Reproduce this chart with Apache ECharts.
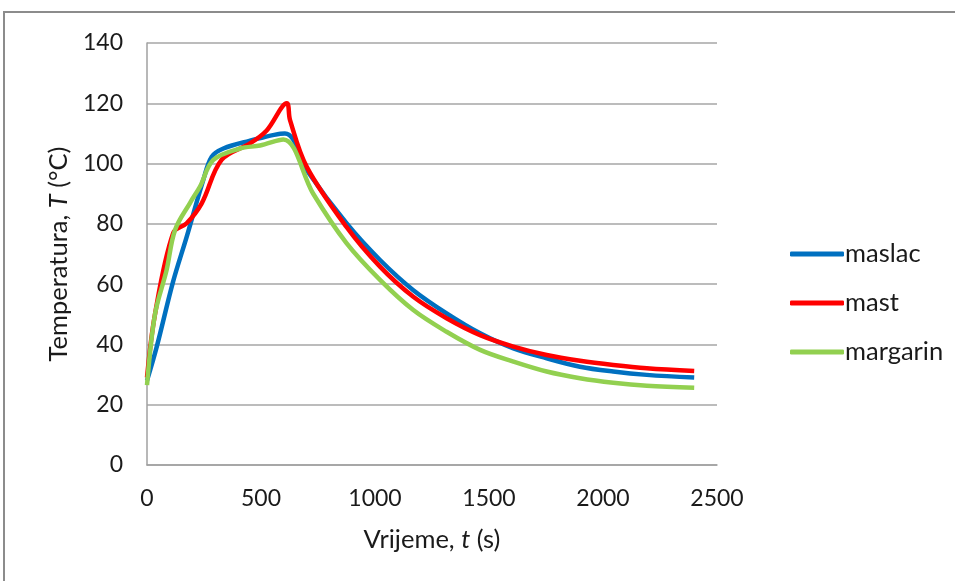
<!DOCTYPE html>
<html><head><meta charset="utf-8">
<script src="https://cdn.jsdelivr.net/npm/echarts@6/dist/echarts.min.js"></script>
<style>html,body{margin:0;padding:0;background:#fff}#c{width:955px;height:581px}</style>
</head><body><div id="c"></div>
<script>
const seriesNames = ['maslac', 'mast', 'margarin'];
const maslacT = [0, 42, 115, 174, 247, 284, 335, 437, 605, 700, 875, 1022, 1168, 1314, 1461, 1607, 1753, 1899, 2045, 2192, 2400];
const maslacV = [28, 39, 61, 75.7, 94.6, 102.3, 105, 107.3, 110, 97.9, 80.2, 68, 58, 50.3, 43.7, 38.7, 35.4, 32.6, 31, 29.9, 29];
const mastT = [0, 35, 115, 174, 240, 327, 452, 525, 613, 627, 700, 875, 1022, 1168, 1314, 1461, 1607, 1753, 1899, 2045, 2192, 2400];
const mastV = [29, 50, 77, 80.2, 86.8, 101.2, 106.7, 111, 120, 114.5, 99, 79, 65.8, 55.8, 48.7, 43.1, 39.3, 36.5, 34.6, 33.2, 32.1, 31.2];
const margarinT = [0, 35, 86, 123, 189, 232, 291, 408, 496, 598, 729, 875, 1022, 1168, 1314, 1461, 1607, 1753, 1899, 2045, 2192, 2400];
const margarinV = [26.5, 50, 64.7, 78, 87, 92.3, 101.2, 105, 106, 108, 90, 73.6, 61.4, 51.4, 44.2, 38.2, 34.3, 31, 28.8, 27.3, 26.3, 25.6];
const colors = ['#0070C0', '#FF0000', '#92D050'];

const pairs = (ts, vs) => ts.map((t, i) => [t, vs[i]]);
const allData = [pairs(maslacT, maslacV), pairs(mastT, mastV), pairs(margarinT, margarinV)];

const FONT = 'Lato, "Open Sans", sans-serif';
const TXT = '#1a1a1a';
const nameRich = {n: {fontFamily: FONT, fontSize: 25.5, color: TXT}, i: {fontFamily: FONT, fontSize: 25.5, color: TXT, fontStyle: 'italic'}};
const chart = echarts.init(document.getElementById('c'));
chart.setOption({
  animation: false,
  backgroundColor: '#fff',
  graphic: [{type: 'rect', shape: {x: 4, y: 12, width: 1000, height: 700}, style: {fill: 'none', stroke: '#8c8c8c', lineWidth: 2}, silent: true}],
  grid: {left: 147, right: 238, top: 43, bottom: 116},
  legend: {
    orient: 'vertical', left: 785, top: 236, itemGap: 23,
    itemWidth: 54, itemHeight: 5, icon: 'roundRect',
    textStyle: {fontFamily: FONT, fontSize: 25.5, lineHeight: 25, color: TXT, padding: [0, 0, 0, -4]},
    data: seriesNames
  },
  xAxis: {
    type: 'value', min: 0, max: 2500, interval: 500,
    name: '{n|Vrijeme, }{i|t}{n| (s)}', nameLocation: 'middle', nameGap: 62,
    nameTextStyle: {rich: nameRich},
    axisLine: {lineStyle: {color: '#a0a0a0', width: 1.5}},
    axisTick: {show: false},
    axisLabel: {fontFamily: FONT, fontSize: 23, color: TXT, margin: 22, formatter: v => String(v)},
    splitLine: {show: false}
  },
  yAxis: {
    type: 'value', min: 0, max: 140, interval: 20,
    name: '{n|Temperatura, }{i|T}{n| (°C)}', nameLocation: 'middle', nameGap: 71, nameRotate: 90,
    nameTextStyle: {rich: nameRich},
    axisLine: {show: true, lineStyle: {color: '#a0a0a0', width: 1.5}},
    axisTick: {show: false},
    axisLabel: {fontFamily: FONT, fontSize: 23, color: TXT, margin: 24, formatter: v => String(v)},
    splitLine: {lineStyle: {color: '#a6a6a6', width: 1.5}}
  },
  series: seriesNames.map((n, i) => ({
    name: n, type: 'line', data: allData[i], showSymbol: false, symbol: 'none',
    smooth: 0.35,
    lineStyle: {color: colors[i], width: 4.5}, itemStyle: {color: colors[i]}
  }))
});
</script></body></html>
